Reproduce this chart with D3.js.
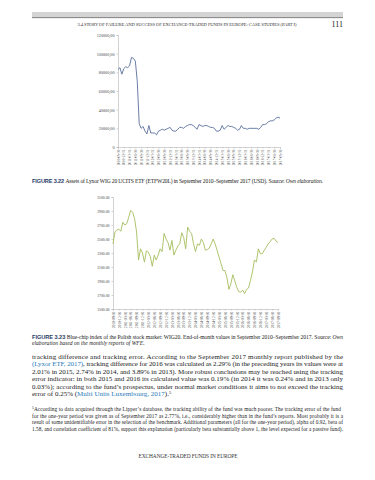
<!DOCTYPE html>
<html>
<head>
<meta charset="utf-8">
<script src="https://cdn.jsdelivr.net/npm/d3@7"></script>
<style>
  body { margin: 0; background: #fff; }
  svg { display: block; font-family: "Liberation Serif", "DejaVu Serif", serif; }
</style>
</head>
<body>
<svg id="page" width="375" height="480"></svg>
<script>
// assets of the ETF, USD, end of month Sep 2010 .. Sep 2017
let assets = [83000, 85000, 78000, 84000, 86000, 85000, 87000, 96000, 95000, 92000,
  70000, 25000, 20000, 22000, 17000, 14000, 23000, 15000, 15000, 15000,
  13000, 17000, 18000, 19000, 18000, 19000, 20000, 21000, 18000, 17000,
  17000, 19000, 21000, 21000, 20000, 22000, 23000, 24000, 24000, 23000,
  21000, 19000, 24000, 23000, 22000, 23000, 23000, 22000, 21000, 21000,
  20000, 17000, 17000, 18000, 23000, 19000, 21000, 23000, 22000, 22000,
  21000, 20000, 18000, 19000, 23000, 20000, 20000, 19000, 20000, 20000,
  20000, 20000, 20000, 19000, 21000, 24000, 24000, 25000, 27000, 28000,
  28000, 29000, 31000, 32000, 31000]

// WIG20 end of month values, same months
let wig20 = [2430, 2600, 2630, 2640, 2610, 2740, 2700, 2720, 2810, 2910,
  2880, 2790, 2600, 2200, 2360, 2300, 2170, 2330, 2310, 2250,
  2110, 2270, 2200, 2270, 2360, 2320, 2580, 2500, 2450, 2340,
  2480, 2270, 2340, 2400, 2430, 2590, 2520, 2360, 2670, 2610,
  2580, 2430, 2320, 2430, 2410, 2500, 2450, 2340, 2350, 2370,
  2430, 2500, 2430, 2340, 2240, 2150, 2050, 2050, 1950, 1780,
  1860, 1990, 1900, 1810, 1750, 1740, 1770, 1720, 1780, 1800,
  1910, 2030, 2200, 2170, 2360, 2290, 2290, 2340, 2380, 2430,
  2460, 2500, 2510, 2470, 2450]

let assetTicks = [0, 20000, 40000, 60000, 80000, 100000, 120000]
let wigTicks = [1500, 1700, 1900, 2100, 2300, 2500, 2700, 2900, 3100]

// month labels, every third month
let months = []
for (let i = 0; i < 85; i++) {
  let y = 2010 + Math.floor((8 + i) / 12)
  let m = (8 + i) % 12 + 1
  months.push({ y: y, m: m })
}
let labelIdx = d3.range(0, 85, 3)
let pad = (n) => (n < 10 ? "0" + n : "" + n)
let endOfMonth = (d) => d.y + "-" + pad(d.m) + "-" + pad(new Date(d.y, d.m, 0).getDate())
let firstOfMonth = (d) => d.y + "-" + pad(d.m) + "-01"

let svg = d3.select("#page")

// running head
svg.append("rect").attr("x", 32).attr("y", 12).attr("width", 311).attr("height", 5.5).attr("fill", "#d4d4d4")
svg.append("rect").attr("x", 32).attr("y", 17.3).attr("width", 311).attr("height", 0.8).attr("fill", "#666")
svg.append("text")
  .attr("x", 187).attr("y", 26)
  .attr("text-anchor", "middle")
  .attr("font-size", "4.6px")
  .attr("fill", "#333")
  .attr("textLength", 219)
  .text("3.4 STORY OF FAILURE AND SUCCESS OF EXCHANGE-TRADED FUNDS IN EUROPE: CASE STUDIES (PART I)")
svg.append("text")
  .attr("x", 343).attr("y", 26.5)
  .attr("text-anchor", "end")
  .attr("font-size", "8px")
  .attr("fill", "#222")
  .text("111")

function drawChart(opt) {
  let x = d3.scaleLinear().domain([0, 84]).range(opt.xr)
  let y = d3.scaleLinear().domain(opt.yd).range(opt.yr)
  let g = svg.append("g")

  let yAxis = g.append("g")
    .attr("transform", "translate(" + opt.xr[0] + ",0)")
    .call(d3.axisLeft(y).tickValues(opt.ticks).tickSize(1.5).tickPadding(2).tickFormat(opt.fmt))
  yAxis.selectAll("text").attr("font-size", opt.yfs).attr("fill", "#444").attr("font-family", "Liberation Serif")
  yAxis.selectAll("line,path").attr("stroke", "#b5b5b5").attr("stroke-width", 0.6)

  let xAxis = g.append("g")
    .attr("transform", "translate(0," + opt.yr[0] + ")")
    .call(d3.axisBottom(x).tickValues(labelIdx).tickSize(1.5).tickFormat((i) => opt.dfmt(months[i])))
  xAxis.selectAll("line,path").attr("stroke", "#b5b5b5").attr("stroke-width", 0.6)
  xAxis.selectAll("text")
    .attr("font-size", opt.xfs).attr("fill", "#444").attr("font-family", "Liberation Serif")
    .attr("transform", "rotate(-90)")
    .attr("text-anchor", "end")
    .attr("dy", "0.35em")
    .attr("x", -2.5).attr("y", 0)

  g.append("path")
    .datum(opt.data)
    .style("fill", "none")
    .style("stroke", opt.color)
    .style("stroke-width", 0.9)
    .attr("d", d3.line().x((d, i) => x(i)).y((d) => y(d)))
}

drawChart({
  data: assets, ticks: assetTicks, yd: [0, 120000], xr: [118, 280], yr: [147, 35],
  fmt: (d) => d == 0 ? "0" : d + ",00", dfmt: endOfMonth,
  color: "#5a6f9c", yfs: "4.2px", xfs: "3.4px"
})

drawChart({
  data: wig20, ticks: wigTicks, yd: [1500, 3100], xr: [113, 278], yr: [309, 197],
  fmt: (d) => d + ".00", dfmt: firstOfMonth,
  color: "#a5bd5e", yfs: "3.8px", xfs: "3.6px"
})

// captions
function caption(yy, label, parts, len) {
  let t = svg.append("text").attr("x", 32).attr("y", yy).attr("font-size", "5.6px").attr("fill", "#222")
  if (len) t.attr("textLength", len).attr("lengthAdjust", "spacing")
  if (label) t.append("tspan").attr("font-weight", "bold").attr("font-family", "Liberation Sans").attr("fill", "#1f3b66").text(label + "   ")
  parts.forEach((p) => {
    t.append("tspan").attr("font-style", p.i ? "italic" : null).text(p.t)
  })
}
caption(183, "FIGURE 3.22", [
  { t: "Assets of Lyxor WIG 20 UCITS ETF (ETFW20L) in September 2010–September 2017 (USD). Source: " },
  { t: "Own elaboration.", i: true }], 291)
caption(339, "FIGURE 3.23", [
  { t: "Blue-chip index of the Polish stock market: WIG20. End-of-month values in September 2010–September 2017. Source: " },
  { t: "Own", i: true }], 311)
caption(345, null, [{ t: "elaboration based on the monthly reports of WFE.", i: true }])

// body paragraph
let bodyLines = [
  [{ t: "tracking difference and tracking error. According to the September 2017 monthly report published by the" }],
  [{ t: "(Lyxor ETF, 2017)", b: true }, { t: ", tracking difference for 2016 was calculated as 2.29% (in the preceding years its values were at" }],
  [{ t: "2.01% in 2015, 2.74% in 2014, and 3.89% in 2013). More robust conclusions may be reached using the tracking" }],
  [{ t: "error indicator: in both 2015 and 2016 its calculated value was 0.19% (in 2014 it was 0.24% and in 2013 only" }],
  [{ t: "0.03%); according to the fund’s prospectus, under normal market conditions it aims to not exceed the tracking" }],
  [{ t: "error of 0.25% (" }, { t: "Multi Units Luxembourg, 2017", b: true }, { t: ").", }, { t: "5", s: true }]
]
bodyLines.forEach((ln, k) => {
  let t = svg.append("text").attr("x", 32).attr("y", 359 + k * 7.4).attr("font-size", "7px").attr("fill", "#1a1a1a")
  if (k < bodyLines.length - 1) t.attr("textLength", 311).attr("lengthAdjust", "spacing")
  ln.forEach((p) => {
    let s = t.append("tspan").text(p.t)
    if (p.b) s.attr("fill", "#2a7ab8")
    if (p.s) s.attr("font-size", "4.5px").attr("dy", "-2.5")
  })
})

// footnote
let noteLines = [
  "According to data acquired through the Lipper’s database, the tracking ability of the fund was much poorer. The tracking error of the fund",
  "for the one-year period was given as of September 2017 as 2.77%, i.e., considerably higher than in the fund’s reports. Most probably it is a",
  "result of some unidentifiable error in the selection of the benchmark. Additional parameters (all for the one-year period), alpha of 0.92, beta of",
  "1.58, and correlation coefficient of 81%, support this explanation (particularly beta substantially above 1, the level expected for a passive fund)."
]
noteLines.forEach((ln, k) => {
  let t = svg.append("text").attr("x", 32).attr("y", 411 + k * 6.6).attr("font-size", "5.3px").attr("fill", "#1a1a1a")
    .attr("textLength", k == 0 ? 309 : 311).attr("lengthAdjust", "spacing")
  if (k == 0) t.append("tspan").attr("font-size", "3.6px").attr("dy", "-1.8").text("5")
  t.append("tspan").attr("dy", k == 0 ? "1.8" : null).text(ln)
})

// running foot
svg.append("text")
  .attr("x", 188).attr("y", 458)
  .attr("text-anchor", "middle")
  .attr("font-size", "5.4px")
  .attr("fill", "#333")
  .attr("textLength", 99)
  .text("EXCHANGE-TRADED FUNDS IN EUROPE")
</script>
</body>
</html>
